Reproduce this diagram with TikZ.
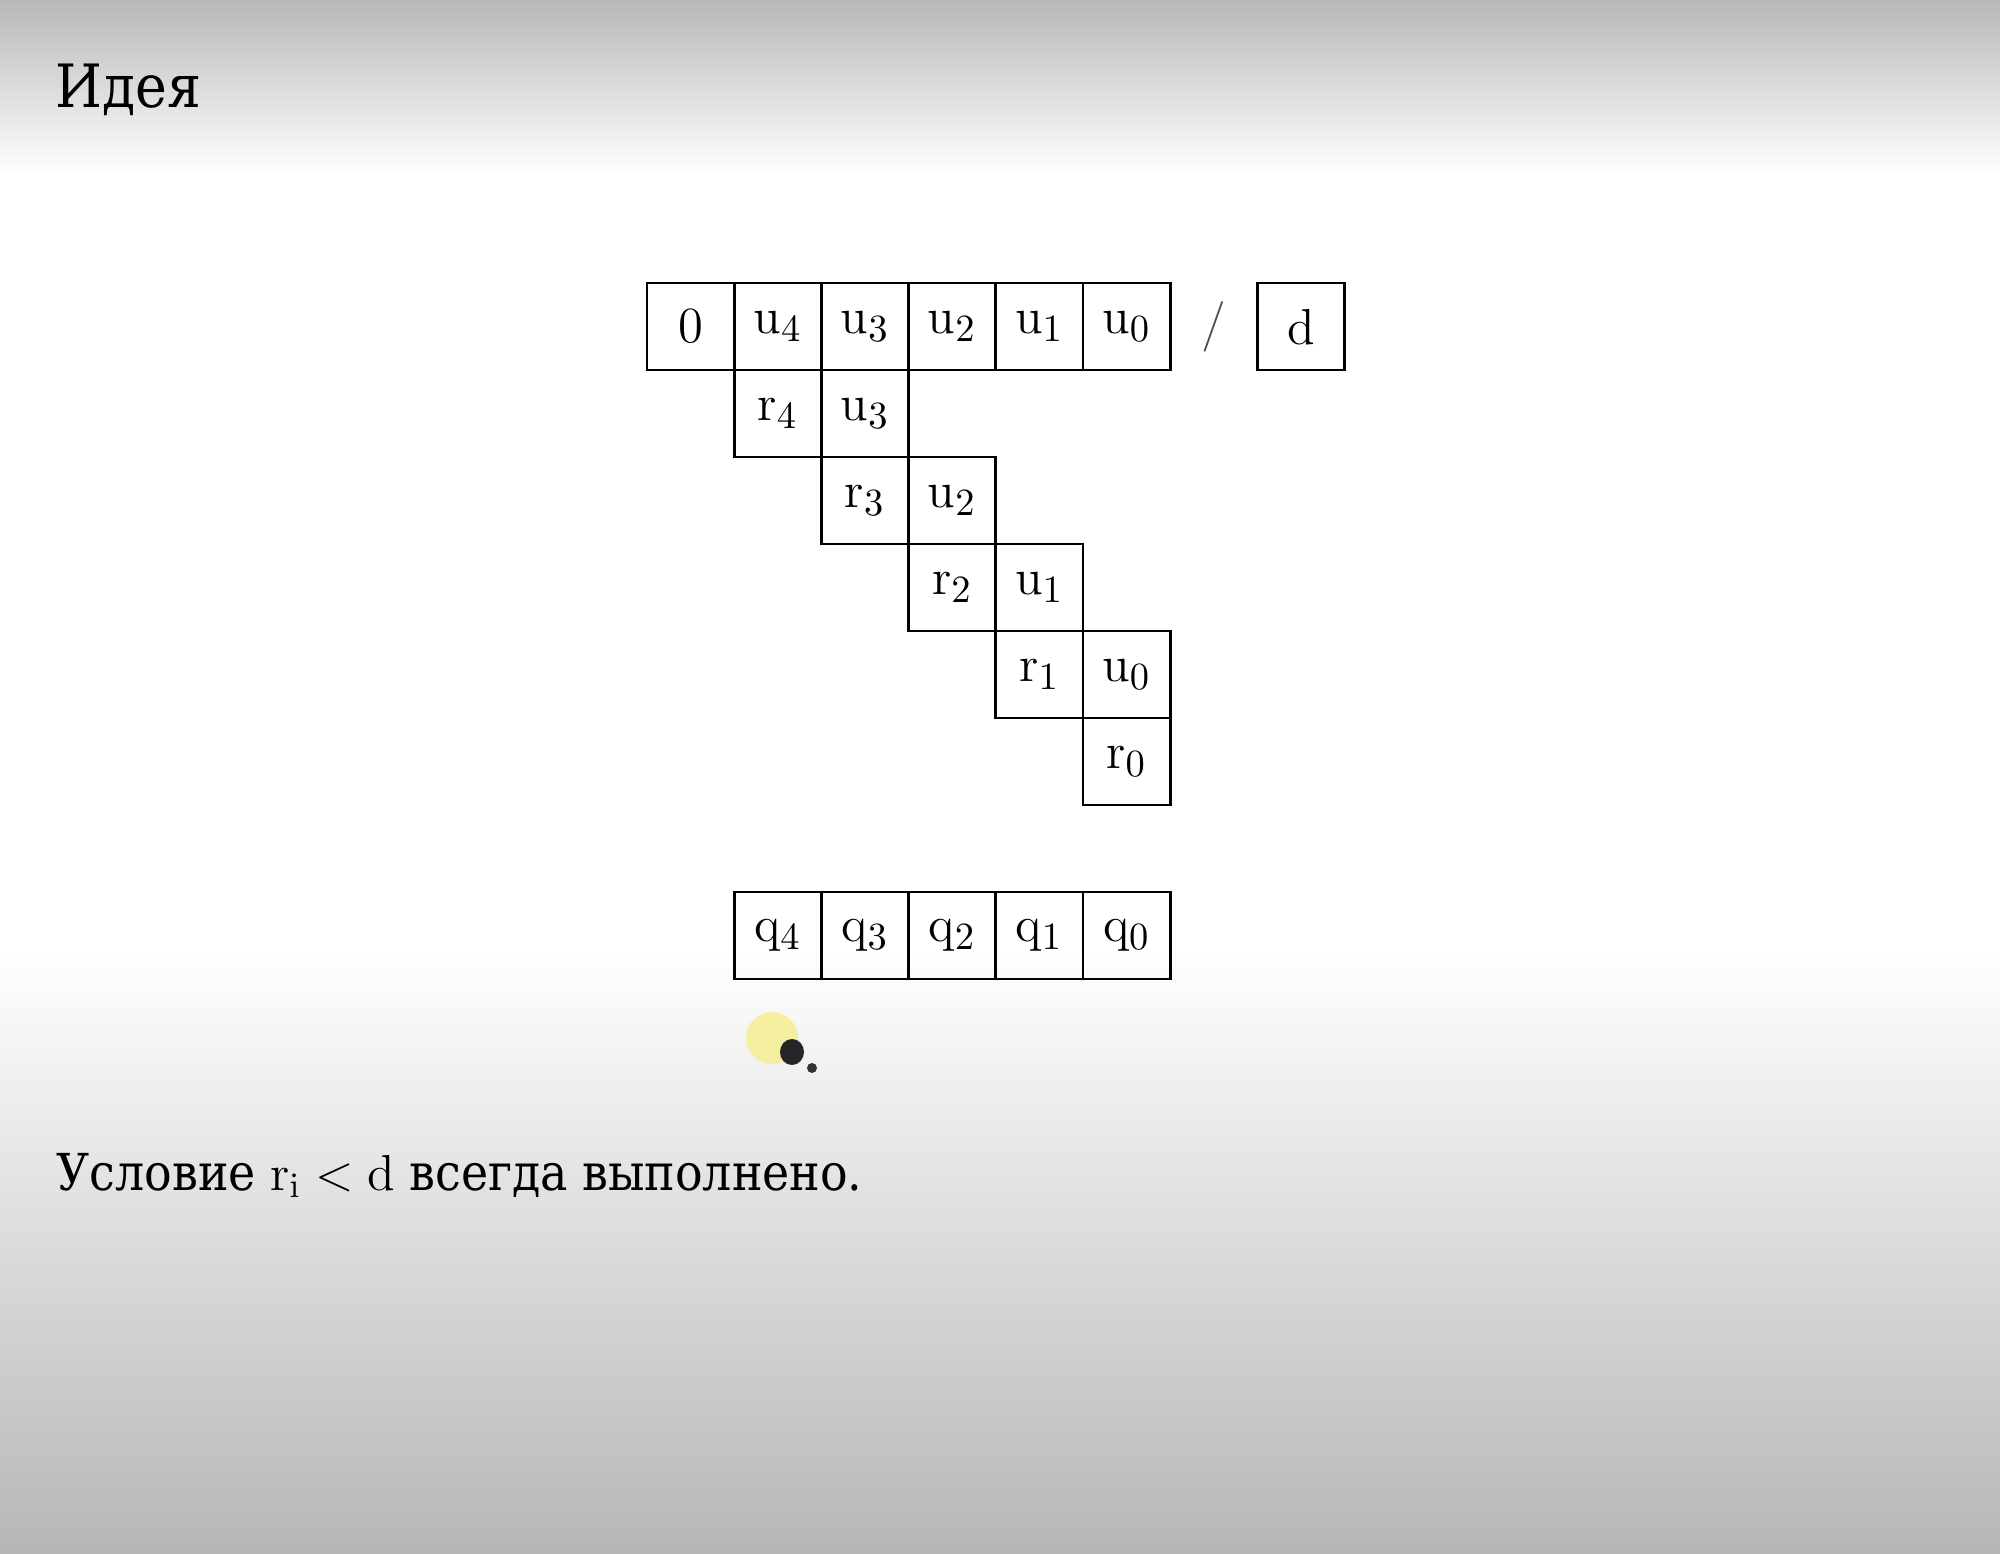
\documentclass[tikz,border=0pt]{standalone}
\usepackage[no-math]{fontspec}
\setmainfont{DejaVu Serif Condensed}
\newcommand{\mv}[1]{\mathrm{#1}}
\definecolor{bgtop}{RGB}{184,184,184}
\definecolor{bgbot}{RGB}{182,182,182}
\definecolor{hilite}{RGB}{246,238,140}
\begin{document}
\begin{tikzpicture}[x=0.1mm,y=-0.1mm,
  cell/.style={draw, line width=0.27mm, minimum width=8.72mm, minimum height=8.7mm,
    inner sep=0pt, font=\fontsize{15.5}{18}\selectfont},
  plain/.style={inner sep=0pt, font=\fontsize{15.5}{18}\selectfont},
  heading/.style={anchor=base west, inner sep=0pt, font=\fontsize{17}{20}\selectfont},
  bodytext/.style={anchor=base west, inner sep=0pt, font=\fontsize{14.5}{18}\selectfont}]
% background
\useasboundingbox (0,0) rectangle (2000,1554);
\fill[white] (0,0) rectangle (2000,1554);
\shade[top color=bgtop, bottom color=white] (0,0) rectangle (2000,175);
\shade[top color=white, bottom color=bgbot] (0,950) rectangle (2000,1554);
% title
\node[heading] (title) at (55,107) {Идея};
% row 0
\node[cell] (z)  at (690.6,326.5) {$0$};
\node[cell] (a4) at (777.8,326.5) {$\mv{u}_4$};
\node[cell] (a3) at (865.0,326.5) {$\mv{u}_3$};
\node[cell] (a2) at (952.2,326.5) {$\mv{u}_2$};
\node[cell] (a1) at (1039.4,326.5) {$\mv{u}_1$};
\node[cell] (a0) at (1126.6,326.5) {$\mv{u}_0$};
\node[plain, text=black!70] (slash) at (1213.8,326.5) {$/$};
\node[cell] (d)  at (1301.0,326.5) {$\mv{d}$};
% row 1
\node[cell] (r4) at (777.8,413.5) {$\mv{r}_4$};
\node[cell] (b3) at (865.0,413.5) {$\mv{u}_3$};
% row 2
\node[cell] (r3) at (865.0,500.5) {$\mv{r}_3$};
\node[cell] (b2) at (952.2,500.5) {$\mv{u}_2$};
% row 3
\node[cell] (r2) at (952.2,587.5) {$\mv{r}_2$};
\node[cell] (b1) at (1039.4,587.5) {$\mv{u}_1$};
% row 4
\node[cell] (r1) at (1039.4,674.5) {$\mv{r}_1$};
\node[cell] (b0) at (1126.6,674.5) {$\mv{u}_0$};
% row 5
\node[cell] (r0) at (1126.6,761.5) {$\mv{r}_0$};
% quotient row
\node[cell] (q4) at (777.8,935.5) {$\mv{q}_4$};
\node[cell] (q3) at (865.0,935.5) {$\mv{q}_3$};
\node[cell] (q2) at (952.2,935.5) {$\mv{q}_2$};
\node[cell] (q1) at (1039.4,935.5) {$\mv{q}_1$};
\node[cell] (q0) at (1126.6,935.5) {$\mv{q}_0$};
% cursor highlight
\fill[hilite, opacity=0.8] (772,1038) circle (2.6mm);
\fill[black!85] (792,1052) ellipse (1.2mm and 1.3mm);
\fill[black!80] (812,1068) circle (0.5mm);
% condition
\node[bodytext] (cond) at (56,1190) {Условие $\mv{r}_{\mv{i}} < \mv{d}$ всегда выполнено.};
\end{tikzpicture}
\end{document}
